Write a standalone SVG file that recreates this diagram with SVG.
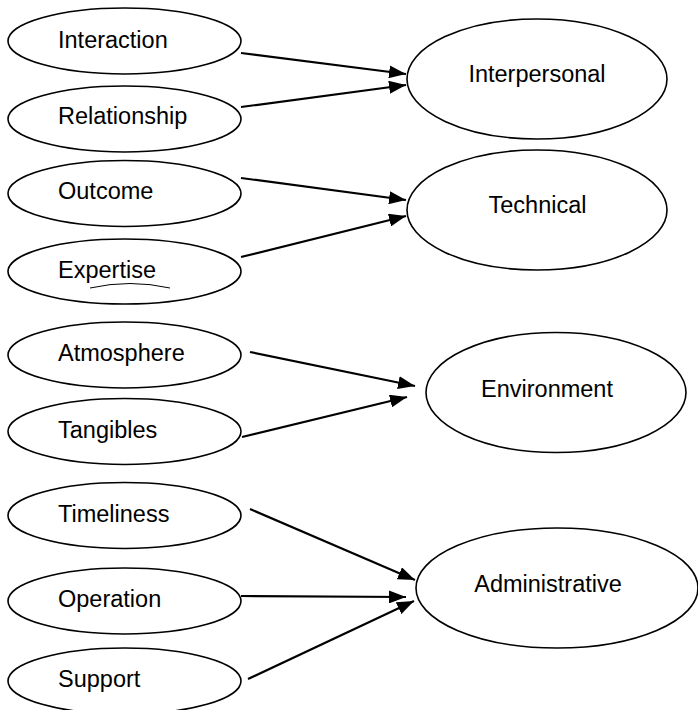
<svg xmlns="http://www.w3.org/2000/svg" width="698" height="710" viewBox="0 0 698 710">
<style>
.n ellipse{fill:#fff;stroke:#000;stroke-width:1.6}
.n text{font-family:"Liberation Sans",Arial,sans-serif;font-size:23.5px;fill:#000}
.c line{stroke:#000;stroke-width:2.2;marker-end:url(#ah)}
</style>
<defs>
<marker id="ah" markerUnits="userSpaceOnUse" markerWidth="17" markerHeight="13" refX="17" refY="6.5" orient="auto">
<path d="M0,0 L17,6.5 L0,13 z" fill="#000"/>
</marker>
</defs>
<rect width="698" height="710" fill="#fff"/>
<g class="c" id="connectors">
<line x1="241" y1="53" x2="406" y2="74"/>
<line x1="241" y1="107" x2="406" y2="85"/>
<line x1="241" y1="178" x2="406" y2="200"/>
<line x1="241" y1="257" x2="406" y2="216"/>
<line x1="250" y1="352" x2="415" y2="386"/>
<line x1="242" y1="437" x2="407" y2="397"/>
<line x1="250" y1="509" x2="415" y2="580"/>
<line x1="241" y1="596" x2="406" y2="597"/>
<line x1="248" y1="679" x2="414" y2="601"/>
</g>
<g class="n" id="interaction"><ellipse cx="124.5" cy="41" rx="116.5" ry="33"/><text x="58" y="48">Interaction</text></g>
<g class="n" id="relationship"><ellipse cx="124.5" cy="119" rx="116.5" ry="33"/><text x="58" y="124">Relationship</text></g>
<g class="n" id="outcome"><ellipse cx="124.5" cy="193.5" rx="116.5" ry="33"/><text x="58" y="199">Outcome</text></g>
<g class="n" id="expertise"><ellipse cx="124.5" cy="271.5" rx="116.5" ry="32.5"/><text x="58" y="278">Expertise</text><path d="M90,288 Q130,279 170,288" fill="none" stroke="#000" stroke-width="1"/></g>
<g class="n" id="atmosphere"><ellipse cx="124.5" cy="355" rx="116.5" ry="33"/><text x="58" y="361">Atmosphere</text></g>
<g class="n" id="tangibles"><ellipse cx="124.5" cy="431.5" rx="116.5" ry="33"/><text x="58" y="438">Tangibles</text></g>
<g class="n" id="timeliness"><ellipse cx="124.5" cy="515.5" rx="116.5" ry="33"/><text x="58" y="522">Timeliness</text></g>
<g class="n" id="operation"><ellipse cx="124.5" cy="601" rx="116.5" ry="33"/><text x="58" y="607">Operation</text></g>
<g class="n" id="support"><ellipse cx="124.5" cy="681" rx="116.5" ry="33"/><text x="58" y="687">Support</text></g>
<g class="n" id="interpersonal"><ellipse cx="537" cy="79" rx="130" ry="60"/><text x="537" y="82" text-anchor="middle">Interpersonal</text></g>
<g class="n" id="technical"><ellipse cx="537" cy="210" rx="130" ry="60"/><text x="537.5" y="213" text-anchor="middle">Technical</text></g>
<g class="n" id="environment"><ellipse cx="556" cy="392.5" rx="130" ry="60"/><text x="547" y="397" text-anchor="middle">Environment</text></g>
<g class="n" id="administrative"><ellipse cx="557" cy="588" rx="141" ry="60"/><text x="548" y="592" text-anchor="middle">Administrative</text></g>
</svg>
